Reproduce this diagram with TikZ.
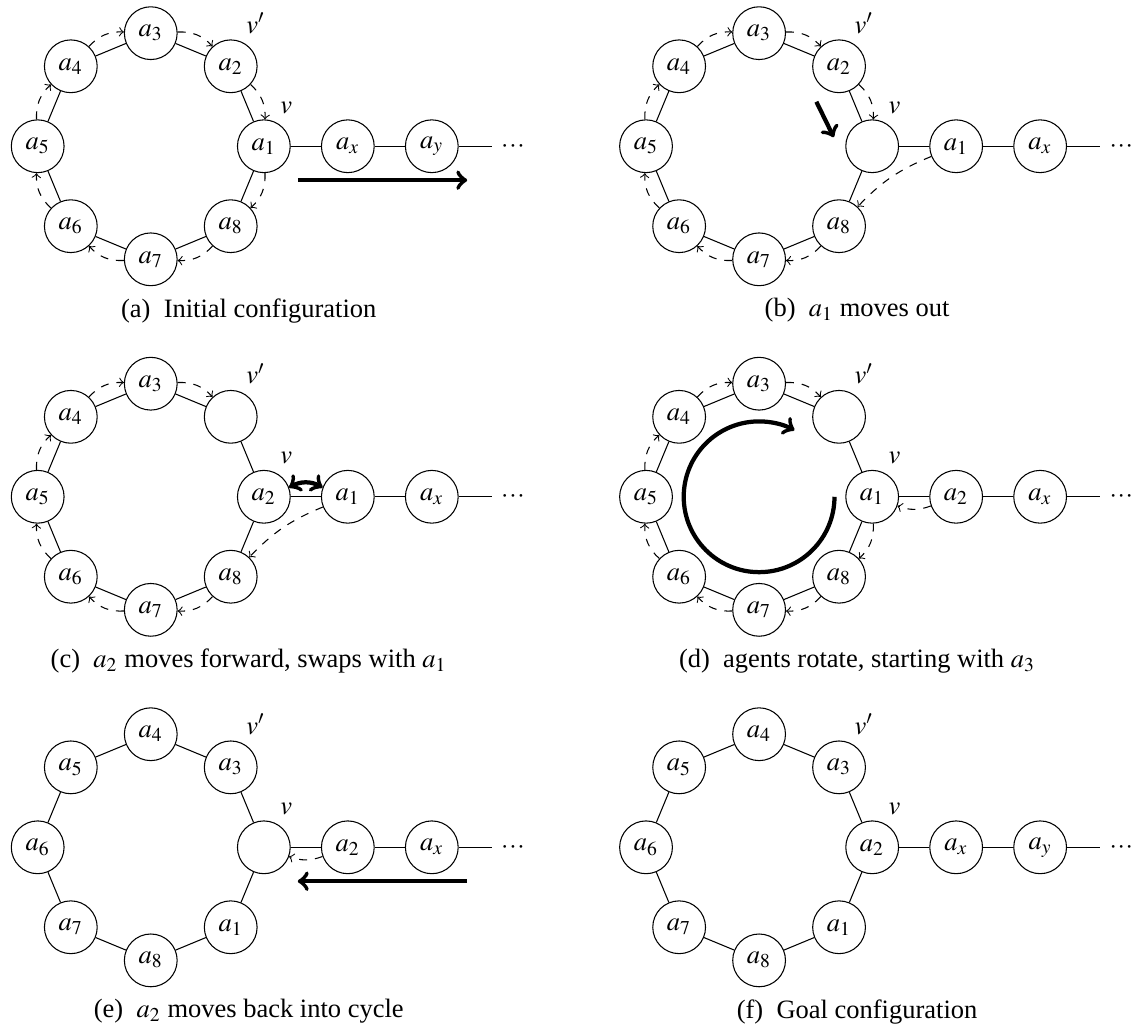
\documentclass[tikz,border=0pt]{standalone}
\usepackage{mathptmx}
\usepackage{fontspec}
\setmainfont{Liberation Serif}
\usetikzlibrary{calc}
\usetikzlibrary{positioning}
\usetikzlibrary{arrows}

\begin{document}
\begin{tikzpicture}[node distance=4mm]
\tikzstyle{agent}=[draw, circle, minimum size=0.7cm, inner sep=0pt]
\tikzstyle{more}=[inner sep=0.333em]
\tikzstyle{vlab}=[anchor=240, inner sep=0.333em]
\tikzstyle{move}=[->, dashed, bend left=25]
\tikzstyle{moveback}=[->, dashed, bend left=20]
\tikzstyle{moveout}=[->, dashed, bend right=12]
\tikzstyle{bigmove}=[->, ultra thick]

\useasboundingbox (0,0) rectangle (15.03,-13.65);

% one snapshot per entry: name / centre of cycle / agents on cycle / agents on path / caption
\foreach \p/\cx/\cy/\agents/\la/\lb/\txt in {
  a/2.00/-1.94/{a_1,a_2,a_3,a_4,a_5,a_6,a_7,a_8}/a_x/a_y/{(a)\hspace{0.5em}Initial configuration},
  b/10.07/-1.94/{{},a_2,a_3,a_4,a_5,a_6,a_7,a_8}/a_1/a_x/{(b)\hspace{0.5em}$a_1$ moves out},
  c/2.00/-6.59/{a_2,{},a_3,a_4,a_5,a_6,a_7,a_8}/a_1/a_x/{(c)\hspace{0.5em}$a_2$ moves forward, swaps with $a_1$},
  d/10.07/-6.59/{a_1,{},a_3,a_4,a_5,a_6,a_7,a_8}/a_2/a_x/{(d)\hspace{0.5em}agents rotate, starting with $a_3$},
  e/2.00/-11.24/{{},a_3,a_4,a_5,a_6,a_7,a_8,a_1}/a_2/a_x/{(e)\hspace{0.5em}$a_2$ moves back into cycle},
  f/10.07/-11.24/{a_2,a_3,a_4,a_5,a_6,a_7,a_8,a_1}/a_x/a_y/{(f)\hspace{0.5em}Goal configuration}}{
  \coordinate (c\p) at (\cx,\cy);
  \foreach \lab [count=\i] in \agents
    \node[agent] (p\p\i) at ($(c\p)+({45*(\i-1)}:1.5)$) {$\lab$};
  \node[agent, right=of p\p1] (l\p1) {$\la$};
  \node[agent, right=of l\p1] (l\p2) {$\lb$};
  \node[more, right=0.44cm of l\p2] (l\p3) {$\cdotp\mkern-1.5mu\cdotp\mkern-1.5mu\cdotp$};
  \foreach \i/\j in {1/2,2/3,3/4,4/5,5/6,6/7,7/8,8/1}
    \draw (p\p\i) -- (p\p\j);
  \draw (p\p1) -- (l\p1) -- (l\p2) -- (l\p3);
  \node[vlab] (v\p) at (p\p1.60) {$v$};
  \node[vlab] (w\p) at (p\p2.60) {$v'$};
  \node (t\p) at ($(c\p)+(1.3,-2.18)$) {\txt};
}

% (a)
\foreach \i/\j in {2/1,3/2,4/3,5/4,6/5,7/6,8/7,1/8}
  \draw[move] (pa\i) to (pa\j);
\coordinate (sa) at ($(pa1)+(0.45,-0.45)$);
\coordinate (ea) at ($(la2)+(0.47,-0.45)$);
\draw[bigmove] (sa) -- (ea);

% (b)
\foreach \i/\j in {2/1,3/2,4/3,5/4,6/5,7/6,8/7}
  \draw[move] (pb\i) to (pb\j);
\draw[moveout] (lb1) to (pb8);
\coordinate (sb) at ($(cb)+(0.76,0.59)$);
\coordinate (eb) at ($(cb)+(0.99,0.12)$);
\draw[bigmove] (sb) -- (eb);

% (c)
\foreach \i/\j in {3/2,4/3,5/4,6/5,7/6,8/7}
  \draw[move] (pc\i) to (pc\j);
\draw[moveout] (lc1) to (pc8);
\draw[<->, ultra thick] (pc1.20) to[bend left=30] (lc1.160);

% (d)
\foreach \i/\j in {3/2,4/3,5/4,6/5,7/6,8/7,1/8}
  \draw[move] (pd\i) to (pd\j);
\draw[moveback] (ld1) to (pd1);
\coordinate (sd) at ($(cd)+(1,0)$);
\draw[bigmove] (sd) arc (0:-298:1);

% (e)
\draw[moveback] (le1) to (pe1);
\coordinate (se) at ($(le2)+(0.47,-0.45)$);
\coordinate (ee) at ($(pe1)+(0.45,-0.45)$);
\draw[bigmove] (se) -- (ee);
\end{tikzpicture}
\end{document}
